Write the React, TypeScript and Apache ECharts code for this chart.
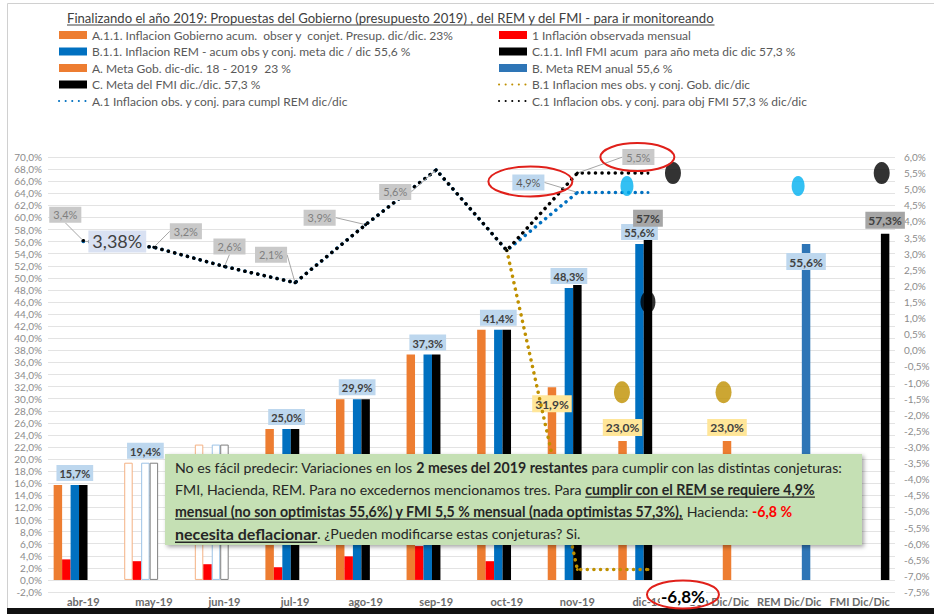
import React, { useEffect, useRef } from 'react';
import * as echarts from 'echarts';

// ---------- data ----------
const categories = ['abr-19', 'may-19', 'jun-19', 'jul-19', 'ago-19', 'sep-19', 'oct-19', 'nov-19', 'dic-19', 'Gob Dic/Dic', 'REM Dic/Dic', 'FMI Dic/Dic'];

const govAccum = [15.7, 19.4, 22.4, 25.0, 29.9, 37.3, 41.4, 31.9, 23.0, null, null, null];
const monthlyObserved = [3.4, 3.1, 2.6, 2.1, 3.9, 5.6, 3.1, null, null, null, null, null];
const remAccum = [15.7, 19.4, 22.4, 25.0, 29.9, 37.3, 41.4, 48.3, 55.6, null, null, null];
const fmiAccum = [15.7, 19.4, 22.4, 25.0, 29.9, 37.3, 41.4, 48.8, 57.3, null, null, null];
const metaGob = [null, null, null, null, null, null, null, null, null, 23.0, null, null];
const metaRem = [null, null, null, null, null, null, null, null, null, null, 55.6, null];
const metaFmi = [null, null, null, null, null, null, null, null, null, null, null, 57.3];

const remMonthlyPath = [3.38, 3.2, 2.6, 2.1, 3.9, 5.6, 3.1, 4.9, 4.9, null, null, null];
const govMonthlyPath = [null, null, null, null, null, null, 3.1, -6.8, -6.8, null, null, null];
const fmiMonthlyPath = [3.4, 3.2, 2.6, 2.1, 3.9, 5.6, 3.1, 5.5, 5.5, null, null, null];

const goldMarks = [null, null, null, null, null, null, null, null, -1.3, -1.3, null, null];
const cyanMarks = [null, null, null, null, null, null, null, null, 5.1, null, 5.1, null];
const blackMarks = [null, null, null, null, null, null, null, null, 5.5, null, null, 5.5];
const blackMidMarks = [null, null, null, null, null, null, null, null, 1.5, null, null, null];

const legendLeft = [
  'A.1.1. Inflacion Gobierno acum.  obser y  conjet. Presup. dic/dic. 23%',
  'B.1.1. Inflacion REM - acum obs y conj. meta dic / dic 55,6 %',
  'A. Meta Gob. dic-dic. 18 - 2019  23 %',
  'C. Meta del FMI dic./dic. 57,3 %',
  'A.1 Inflacion obs. y conj. para cumpl REM dic/dic',
];
const legendRight = [
  '1 Inflación observada mensual',
  'C.1.1. Infl FMI acum  para año meta dic dic 57,3 %',
  'B. Meta REM anual 55,6 %',
  'B.1 Inflacion mes obs. y conj. Gob. dic/dic',
  'C.1 Inflacion obs. y conj. para obj FMI 57,3 % dic/dic',
];
const titleText = 'Finalizando el año 2019: Propuestas del Gobierno (presupuesto 2019) , del REM y del FMI - para ir monitoreando';

type Seg = { t: string; b?: boolean; u?: boolean; red?: boolean; big?: boolean };
const boxLines: Seg[][] = [
  [{ t: 'No es fácil predecir: Variaciones en los ' }, { t: '2 meses del 2019 restantes', b: true }, { t: ' para cumplir con las distintas conjeturas:' }],
  [{ t: 'FMI, Hacienda, REM. Para no excedernos mencionamos tres. Para ' }, { t: 'cumplir con el REM se requiere 4,9%', b: true, u: true }],
  [{ t: 'mensual (no son optimistas 55,6%) y FMI 5,5 % mensual (nada optimistas 57,3%),', b: true, u: true }, { t: ' Hacienda: ' }, { t: '-6,8 %', b: true, red: true }],
  [{ t: 'necesita deflacionar', b: true, u: true, big: true }, { t: '. ¿Pueden modificarse estas conjeturas? Si.' }],
];

const fmt = (v: number, d = 1) => v.toFixed(d).replace('.', ',') + '%';

export default function App() {
  const ref = useRef<HTMLDivElement>(null);
  useEffect(() => {
    document.body.style.margin = '0';
    const FONT = 'Lato';
    const cv = document.createElement('canvas').getContext('2d') as CanvasRenderingContext2D;
    const measure = (s: string, size: number, weight = 'normal') => {
      cv.font = `${weight} ${size}px ${FONT}`;
      return cv.measureText(s).width;
    };
    const chart = echarts.init(ref.current as HTMLDivElement, null, { renderer: 'svg' });

    const legendFont = (11 * 362) / measure(legendLeft[0], 11);

    const hollow = [1, 2];
    const hollowStyle = (c: string) => ({ color: '#FFFFFF', borderColor: c, borderWidth: 1 });

    const barBase = { type: 'bar', barWidth: '12%', barGap: '0%', yAxisIndex: 0, z: 2 };
    const blueLabel = {
      show: false, position: 'top', distance: 4, backgroundColor: '#BDD7EE', color: '#404040', fontWeight: 'bold',
      fontSize: 11, fontFamily: FONT, padding: [3, 3, 2, 3], formatter: (p: any) => fmt(p.value),
    };
    const yellowLabel = { ...blueLabel, backgroundColor: '#FFE699', fontSize: 12, distance: 5 };
    const grayLabel = { ...blueLabel, backgroundColor: '#A6A6A6', fontSize: 12, distance: 6 };

    const blueLabelIdx = [0, 1, 3, 4, 5, 6, 7, 8];

    const govData = govAccum.map((v, i) => {
      const it: any = { value: v };
      if (hollow.includes(i)) it.itemStyle = hollowStyle('#F4B183');
      if (i === 7) it.label = { show: true, position: 'insideTop', distance: 8 };
      if (i === 8) it.label = { show: true };
      return it;
    });
    const remData = remAccum.map((v, i) => {
      const it: any = { value: v };
      if (hollow.includes(i)) it.itemStyle = hollowStyle('#9DC3E6');
      if (blueLabelIdx.includes(i)) it.label = { show: true };
      return it;
    });
    const fmiData = fmiAccum.map((v, i) => {
      const it: any = { value: v };
      if (hollow.includes(i)) it.itemStyle = hollowStyle('#7F7F7F');
      if (i === 8) it.label = { show: true, formatter: '57%', distance: 7 };
      return it;
    });

    const fmiLabelOff: Record<number, [number, number]> = { 0: [-18, -26], 1: [32, -16], 2: [5, -20], 3: [-24, -28], 4: [-46, -7], 5: [-41, 22], 7: [61, -16] };
    const remLabelOff: Record<number, [number, number]> = { 0: [34, 0], 7: [-49, -10] };
    const govLabelOff: Record<number, [number, number]> = { 8: [35, 27] };
    const layoutFrom = (offs: Record<number, [number, number]>) => (p: any) => {
      const o = offs[p.dataIndex];
      if (!o) return {};
      const cx = p.rect.x + p.rect.width / 2;
      const cy = p.rect.y + p.rect.height / 2;
      return { x: cx + o[0], y: cy + o[1], align: 'center', verticalAlign: 'middle' };
    };
    const dotted = (color: string) => ({ color, width: 3.5, type: [0.1, 6.5], cap: 'round' });
    const lineBase = { type: 'line', yAxisIndex: 1, symbol: 'circle', symbolSize: 3, z: 5, showAllSymbol: true, connectNulls: false };
    const lineLabel = {
      show: false, color: '#7F7F7F', backgroundColor: '#C9C9C9', padding: [3, 4, 2, 4], fontSize: 11, fontFamily: FONT,
      formatter: (p: any) => fmt(p.value),
    };

    const markerDefs = [
      { name: 'Marcador Gob', data: goldMarks, color: '#BF9000', size: [16, 22], off: { 8: -26, 9: 5 } as Record<number, number> },
      { name: 'Marcador REM', data: cyanMarks, color: '#00B0F0', size: [13, 20], off: { 8: -21, 10: 9 } as Record<number, number> },
      { name: 'Marcador FMI', data: blackMarks, color: '#000000', size: [16, 22], off: { 8: 25, 11: 22 } as Record<number, number> },
      { name: 'Marcador FMI 2', data: blackMidMarks, color: '#000000', size: [15, 22], off: { 8: 0 } as Record<number, number> },
    ];
    const markerSeries = markerDefs.map((m) => ({
      type: 'scatter', name: m.name, yAxisIndex: 1, z: 6, symbol: 'circle', symbolSize: m.size,
      itemStyle: { color: m.color },
      data: m.data
        .map((v, i) => (v == null ? null : { value: [i, v], symbolOffset: [m.off[i] || 0, 0] }))
        .filter((d) => d != null),
    }));

    const legendCommon = {
      orient: 'vertical', top: 24, itemWidth: 28, itemHeight: 8, itemGap: 4.5, selectedMode: false,
      textStyle: { fontSize: legendFont, color: '#595959', fontFamily: FONT, lineHeight: 12 },
    };
    const lineNames = [legendLeft[4], legendRight[3], legendRight[4]];
    const legendItem = (n: string) =>
      lineNames.includes(n) ? { name: n, itemStyle: { color: 'rgba(0,0,0,0)', opacity: 0 } } : { name: n, icon: 'rect' };

    const option: any = {
      animation: false,
      backgroundColor: '#FFFFFF',
      textStyle: { fontFamily: FONT },
      grid: { left: 48, right: 39, top: 157, bottom: 22 },
      legend: [
        { ...legendCommon, left: 53, data: legendLeft.map(legendItem) },
        { ...legendCommon, left: 493, data: legendRight.map(legendItem) },
      ],
      xAxis: {
        type: 'category', data: categories,
        axisLine: { show: false, onZero: false }, axisTick: { show: false },
        axisLabel: { interval: 0, margin: 4, fontSize: 11, fontWeight: 'bold', color: '#6B6B6B', fontFamily: FONT },
      },
      yAxis: [
        {
          type: 'value', min: -2, max: 70, interval: 2, position: 'left',
          axisLine: { show: false }, axisTick: { show: false },
          splitLine: { show: true, lineStyle: { color: '#E3E3E3', width: 1 } },
          axisLabel: { margin: 6, fontSize: 10, color: '#8C8C8C', fontFamily: FONT, formatter: (v: number) => fmt(v) },
        },
        {
          type: 'value', min: -7.5, max: 6, interval: 0.5, position: 'right',
          axisLine: { show: false }, axisTick: { show: false }, splitLine: { show: false },
          axisLabel: { margin: 9, fontSize: 10, color: '#8C8C8C', fontFamily: FONT, formatter: (v: number) => fmt(v) },
        },
      ],
      series: [
        { ...barBase, name: legendLeft[0], data: govData, itemStyle: { color: '#ED7D31' }, label: yellowLabel },
        { ...barBase, name: legendRight[0], data: monthlyObserved, itemStyle: { color: '#FF0000' } },
        { ...barBase, name: legendLeft[1], data: remData, itemStyle: { color: '#0070C0' }, label: blueLabel },
        { ...barBase, name: legendRight[1], data: fmiData, itemStyle: { color: '#000000' }, label: grayLabel },
        { ...barBase, name: legendLeft[2], data: metaGob.map((v) => ({ value: v, label: { show: v != null } })), itemStyle: { color: '#ED7D31' }, label: yellowLabel },
        { ...barBase, name: legendRight[2], data: metaRem.map((v) => ({ value: v, label: { show: v != null } })), itemStyle: { color: '#2E75B6' }, label: { ...blueLabel, position: 'insideTop', distance: 9, fontSize: 12 } },
        { ...barBase, name: legendLeft[3], data: metaFmi.map((v) => ({ value: v, label: { show: v != null } })), itemStyle: { color: '#000000' }, label: { ...grayLabel, distance: 5 } },
        {
          ...lineBase, name: legendLeft[4], itemStyle: { color: '#0070C0' }, lineStyle: dotted('#0070C0'),
          label: lineLabel, labelLayout: layoutFrom(remLabelOff),
          labelLine: { show: true, lineStyle: { color: '#A6A6A6', width: 1 } },
          data: remMonthlyPath.map((v, i) => {
            if (i === 0) return { value: v, label: { show: true, fontSize: 18, color: '#404040', backgroundColor: '#D9E1F2', padding: [3, 4, 1, 4], formatter: (p: any) => fmt(p.value, 2) } };
            if (i === 7) return { value: v, label: { show: true, fontSize: 11, color: '#595959', backgroundColor: '#BDD7EE' } };
            return v;
          }),
        },
        {
          ...lineBase, name: legendRight[3], itemStyle: { color: '#BF9000' }, lineStyle: dotted('#BF9000'),
          label: lineLabel, labelLayout: layoutFrom(govLabelOff),
          data: govMonthlyPath.map((v, i) => (i === 8 ? { value: v, label: { show: true, fontSize: 17, fontWeight: 'bold', color: '#000000', backgroundColor: '#FFFFFF', padding: [0, 1] } } : v)),
        },
        {
          ...lineBase, name: legendRight[4], itemStyle: { color: '#000000' }, lineStyle: dotted('#000000'),
          label: lineLabel, labelLayout: layoutFrom(fmiLabelOff),
          labelLine: { show: true, lineStyle: { color: '#A6A6A6', width: 1 } },
          data: fmiMonthlyPath.map((v, i) => (fmiLabelOff[i] ? { value: v, label: { show: true } } : v)),
        },
        ...markerSeries,
      ],
    };
    chart.setOption(option);

    // ---------- graphics (title, text box, annotations) ----------
    const g: any[] = [];
    g.push({ type: 'line', silent: true, shape: { x1: 7.5, y1: 3.5, x2: 934, y2: 3.5 }, style: { stroke: '#D0D0D0', lineWidth: 1 } });
    g.push({ type: 'line', silent: true, shape: { x1: 7.5, y1: 3.5, x2: 7.5, y2: 608 }, style: { stroke: '#D0D0D0', lineWidth: 1 } });
    g.push({ type: 'rect', silent: true, shape: { x: 7, y: 608, width: 927, height: 6 }, style: { fill: '#111111' } });

    const tSize = (12.5 * 648) / measure(titleText, 12.5);
    const tW = measure(titleText, tSize);
    g.push({ type: 'text', silent: true, x: 67, y: 18, style: { text: titleText, fontSize: tSize, fontFamily: FONT, fill: '#404040', align: 'left', verticalAlign: 'middle', textAlign: 'left', textVerticalAlign: 'middle' } });
    g.push({ type: 'line', silent: true, shape: { x1: 67, y1: 25, x2: 67 + tW, y2: 25 }, style: { stroke: '#404040', lineWidth: 1 } });

    // text box (drawn above the bars)
    const ZB = 200;
    g.push({
      type: 'rect', silent: true, z: ZB, shape: { x: 165, y: 454, width: 697, height: 91 },
      style: { fill: '#C5E0B4', shadowBlur: 4, shadowColor: 'rgba(0,0,0,0.35)', shadowOffsetX: 2, shadowOffsetY: 2 },
    });
    const line1 = boxLines[0];
    let w1 = 0;
    line1.forEach((s) => { w1 += measure(s.t, 14, s.b ? 'bold' : 'normal'); });
    const fs = (14 * 668) / w1;
    const lineY = [467, 489, 511, 533];
    boxLines.forEach((segs, li) => {
      let x = 175;
      segs.forEach((s) => {
        const size = s.big ? fs * 1.13 : fs;
        const weight = s.b ? 'bold' : 'normal';
        const w = measure(s.t, size, weight);
        const fill = s.red ? '#FF0000' : '#262626';
        g.push({
          type: 'text', silent: true, z: ZB + 1, x, y: lineY[li],
          style: { text: s.t, fontSize: size, fontWeight: weight, fontFamily: FONT, fill, align: 'left', verticalAlign: 'middle', textAlign: 'left', textVerticalAlign: 'middle' },
        });
        if (s.u) {
          const uy = lineY[li] + size * 0.58;
          g.push({ type: 'line', silent: true, z: ZB + 1, shape: { x1: x, y1: uy, x2: x + w, y2: uy }, style: { stroke: fill, lineWidth: s.big ? 1.6 : 1.2 } });
        }
        x += w;
      });
    });

    // red ellipses around key labels
    const pt = (i: number, v: number) => chart.convertToPixel({ xAxisIndex: 0, yAxisIndex: 1 } as any, [i, v]) as number[];
    const pRem = pt(7, remMonthlyPath[7] as number);
    const pFmi = pt(7, fmiMonthlyPath[7] as number);
    const pGov = pt(8, govMonthlyPath[8] as number);
    const ell = (cx: number, cy: number, rx: number, ry: number) => ({
      type: 'ellipse', silent: true, z: ZB + 10, shape: { cx, cy, rx, ry }, style: { fill: 'none', stroke: '#E0201A', lineWidth: 2 },
    });
    g.push(ell(pRem[0] - 47, pRem[1] - 11, 42, 15));
    g.push(ell(pFmi[0] + 60, pFmi[1] - 16, 37, 14));
    g.push(ell(pGov[0] + 35, pGov[1] + 25, 36, 14));

    chart.setOption({ graphic: g });

    return () => chart.dispose();
  }, []);
  return <div ref={ref} style={{ position: 'absolute', left: 0, top: 0, width: 934, height: 614 }} />;
}
